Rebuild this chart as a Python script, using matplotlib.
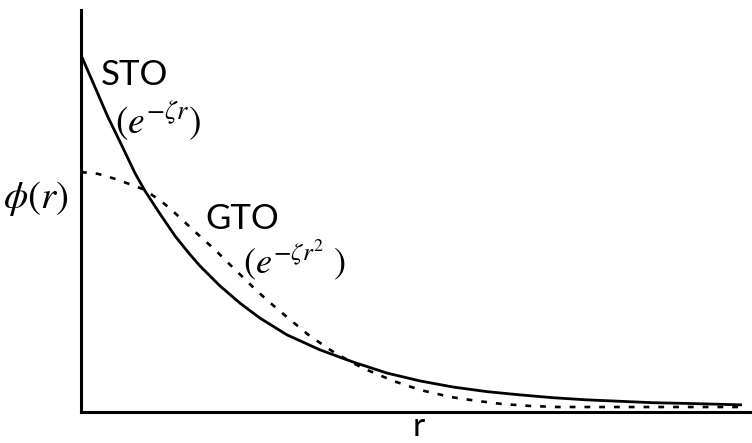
import matplotlib
matplotlib.use("Agg")
import matplotlib.pyplot as plt

# Slater-type orbital (solid) sampled along r
r_sto = [0.0, 0.127, 0.245, 0.373, 0.491, 0.582, 0.718, 0.855, 0.991, 1.082,
         1.264, 1.445, 1.627, 1.873, 2.173, 2.473, 2.782, 3.082, 3.382, 3.691,
         3.991, 4.291, 4.6, 4.9, 5.2, 5.509, 6.009]
phi_sto = [1.0, 0.910, 0.826, 0.745, 0.669, 0.619, 0.555, 0.493, 0.441, 0.409,
           0.353, 0.305, 0.263, 0.216, 0.174, 0.140, 0.109, 0.087, 0.070,
           0.057, 0.048, 0.040, 0.034, 0.030, 0.026, 0.024, 0.020]

# Gaussian-type orbital (dashed)
r_gto = [0.0, 0.155, 0.31, 0.49, 0.58, 0.74, 0.855, 0.97, 1.10, 1.22, 1.34,
         1.46, 1.58, 1.70, 1.83, 1.95, 2.06, 2.19, 2.31, 2.56, 2.84, 3.08,
         3.36, 3.6, 3.84, 4.08, 4.33, 4.72, 5.17, 5.63, 6.0]
phi_gto = [0.672, 0.667, 0.653, 0.633, 0.622, 0.588, 0.557, 0.524, 0.487,
           0.454, 0.417, 0.381, 0.345, 0.311, 0.277, 0.246, 0.218, 0.190,
           0.165, 0.123, 0.087, 0.062, 0.042, 0.031, 0.022, 0.017, 0.014,
           0.014, 0.014, 0.014, 0.014]

plt.rcParams["mathtext.fontset"] = "stix"

W, H = 752, 443
fig = plt.figure(figsize=(W / 100, H / 100), dpi=100)
ax = fig.add_axes([81 / W, 31 / H, 671 / W, 402 / H])

ax.plot(r_sto, phi_sto, color="black", linewidth=2.0, solid_capstyle="butt",
        solid_joinstyle="round")
ax.plot(r_gto, phi_gto, color="black", linewidth=1.9, linestyle=(0, (2.2, 3.4)))

ax.set_xlim(0, 6.1)
ax.set_ylim(0, 1.126)
ax.set_xticks([])
ax.set_yticks([])
for side in ("top", "right"):
    ax.spines[side].set_visible(False)
for side in ("left", "bottom"):
    ax.spines[side].set_linewidth(2.2)
    ax.spines[side].set_color("black")


def label(x, y, s, size, **kw):
    fig.text(x / W, 1 - y / H, s, fontsize=size, color="black", **kw)


label(101, 75, "STO", 25, family="Lato", va="center", ha="left")
label(115, 121, r"$(e^{-\zeta r})$", 27, va="center", ha="left")
label(205, 219, "GTO", 25, family="Lato", va="center", ha="left")
label(243, 260, r"$(e^{-\zeta r^2}\ )$", 26, va="center", ha="left")
label(3, 198, r"$\phi(r)$", 28, va="center", ha="left")
label(419, 427, "r", 24, family="Lato", va="center", ha="center")

fig.savefig("out.png", dpi=100)
